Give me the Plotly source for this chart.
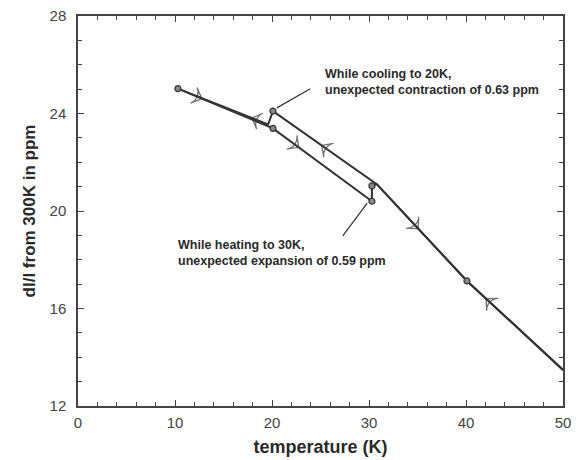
import plotly.graph_objects as go

# heating run (10K -> 50K)
heat_T = [10.3, 20.1, 30.3, 30.3, 30.8, 40.1, 50.0]
heat_v = [25.02, 23.39, 20.40, 21.03, 21.10, 17.13, 13.48]
# cooling run (50K -> 10K)
cool_T = [50.0, 40.1, 30.8, 20.1, 19.6, 10.3]
cool_v = [13.48, 17.13, 21.10, 24.10, 23.55, 25.02]
# measured points (circles)
pt_T = [10.3, 20.1, 20.1, 30.3, 30.3, 40.1]
pt_v = [25.02, 23.39, 24.10, 20.40, 21.03, 17.13]

# direction arrows: (x0, y0, x1, y1, fraction along segment)
arrows = [
    (10.3, 25.02, 20.1, 23.39, 0.25),
    (19.6, 23.55, 10.3, 25.02, 0.18),
    (20.1, 23.39, 30.3, 20.40, 0.26),
    (30.8, 21.10, 20.1, 24.10, 0.53),
    (30.8, 21.10, 40.1, 17.13, 0.46),
    (50.0, 13.48, 40.1, 17.13, 0.80),
]

notes = [
    ("While cooling to 20K,<br>unexpected contraction of 0.63 ppm", 25.3, 25.3),
    ("While heating to 30K,<br>unexpected expansion of 0.59 ppm", 10.1, 18.28),
]
leaders = [
    (20.5, 24.23, 24.1, 25.05),
    (29.82, 20.32, 27.18, 18.92),
]

LC = "#333333"
fig = go.Figure()
fig.add_trace(go.Scatter(x=heat_T, y=heat_v, mode="lines",
                         line=dict(color=LC, width=2), showlegend=False))
fig.add_trace(go.Scatter(x=cool_T, y=cool_v, mode="lines",
                         line=dict(color=LC, width=2), showlegend=False))
fig.add_trace(go.Scatter(x=pt_T, y=pt_v, mode="markers",
                         marker=dict(size=6, color="#888888",
                                     line=dict(color=LC, width=1.2)),
                         showlegend=False))

for x0, y0, x1, y1, f in arrows:
    hx = x0 + (x1 - x0) * f
    hy = y0 + (y1 - y0) * f
    fig.add_trace(go.Scatter(
        x=[x0, hx], y=[y0, hy], mode="markers", showlegend=False,
        marker=dict(symbol="arrow-wide-open", size=[0, 12], angleref="previous",
                    color=LC, line=dict(color=LC, width=1.3))))

for x1, y1, x0, y0 in leaders:
    fig.add_annotation(x=x1, y=y1, ax=x0, ay=y0, xref="x", yref="y",
                       axref="x", ayref="y", text="", showarrow=True,
                       arrowhead=0, arrowwidth=1.2, arrowcolor=LC)

for txt, x, y in notes:
    fig.add_annotation(x=x, y=y, xref="x", yref="y", text="<b>" + txt + "</b>",
                       showarrow=False, xanchor="left", yanchor="middle",
                       align="left",
                       font=dict(family="Liberation Sans, Arial", size=12.5,
                                 color="#2a2a2a"))

axis_common = dict(showline=True, linecolor="#444444", linewidth=1.5,
                   mirror="ticks", ticks="inside", ticklen=6, tickwidth=1.2,
                   tickcolor="#444444", showgrid=False, zeroline=False,
                   automargin=False, ticklabeloverflow="allow",
                   tickfont=dict(family="Liberation Sans, Arial", size=15,
                                 color="#444444"))

fig.update_xaxes(range=[0, 50], dtick=10, tick0=0, ticklabelstandoff=2,
                 minor=dict(dtick=2, ticks="inside", ticklen=4,
                            tickcolor="#444444", tickwidth=1),
                 title=dict(text="<b>temperature (K)</b>", standoff=11,
                            font=dict(family="Liberation Sans, Arial",
                                      size=18, color="#2a2a2a")),
                 **axis_common)
fig.update_yaxes(range=[12, 28], dtick=4, tick0=12, ticklabelstandoff=7,
                 minor=dict(dtick=1, ticks="inside", ticklen=4,
                            tickcolor="#444444", tickwidth=1),
                 title=dict(text="<b>dl/l from 300K in ppm</b>", standoff=10,
                            font=dict(family="Liberation Sans, Arial",
                                      size=17, color="#2a2a2a")),
                 **axis_common)

fig.update_layout(width=587, height=460,
                  margin=dict(l=78, r=24, t=16, b=54),
                  plot_bgcolor="white", paper_bgcolor="white")

fig.write_html("out.html", config={"displayModeBar": False},
               post_script="document.body.style.margin='0';")
